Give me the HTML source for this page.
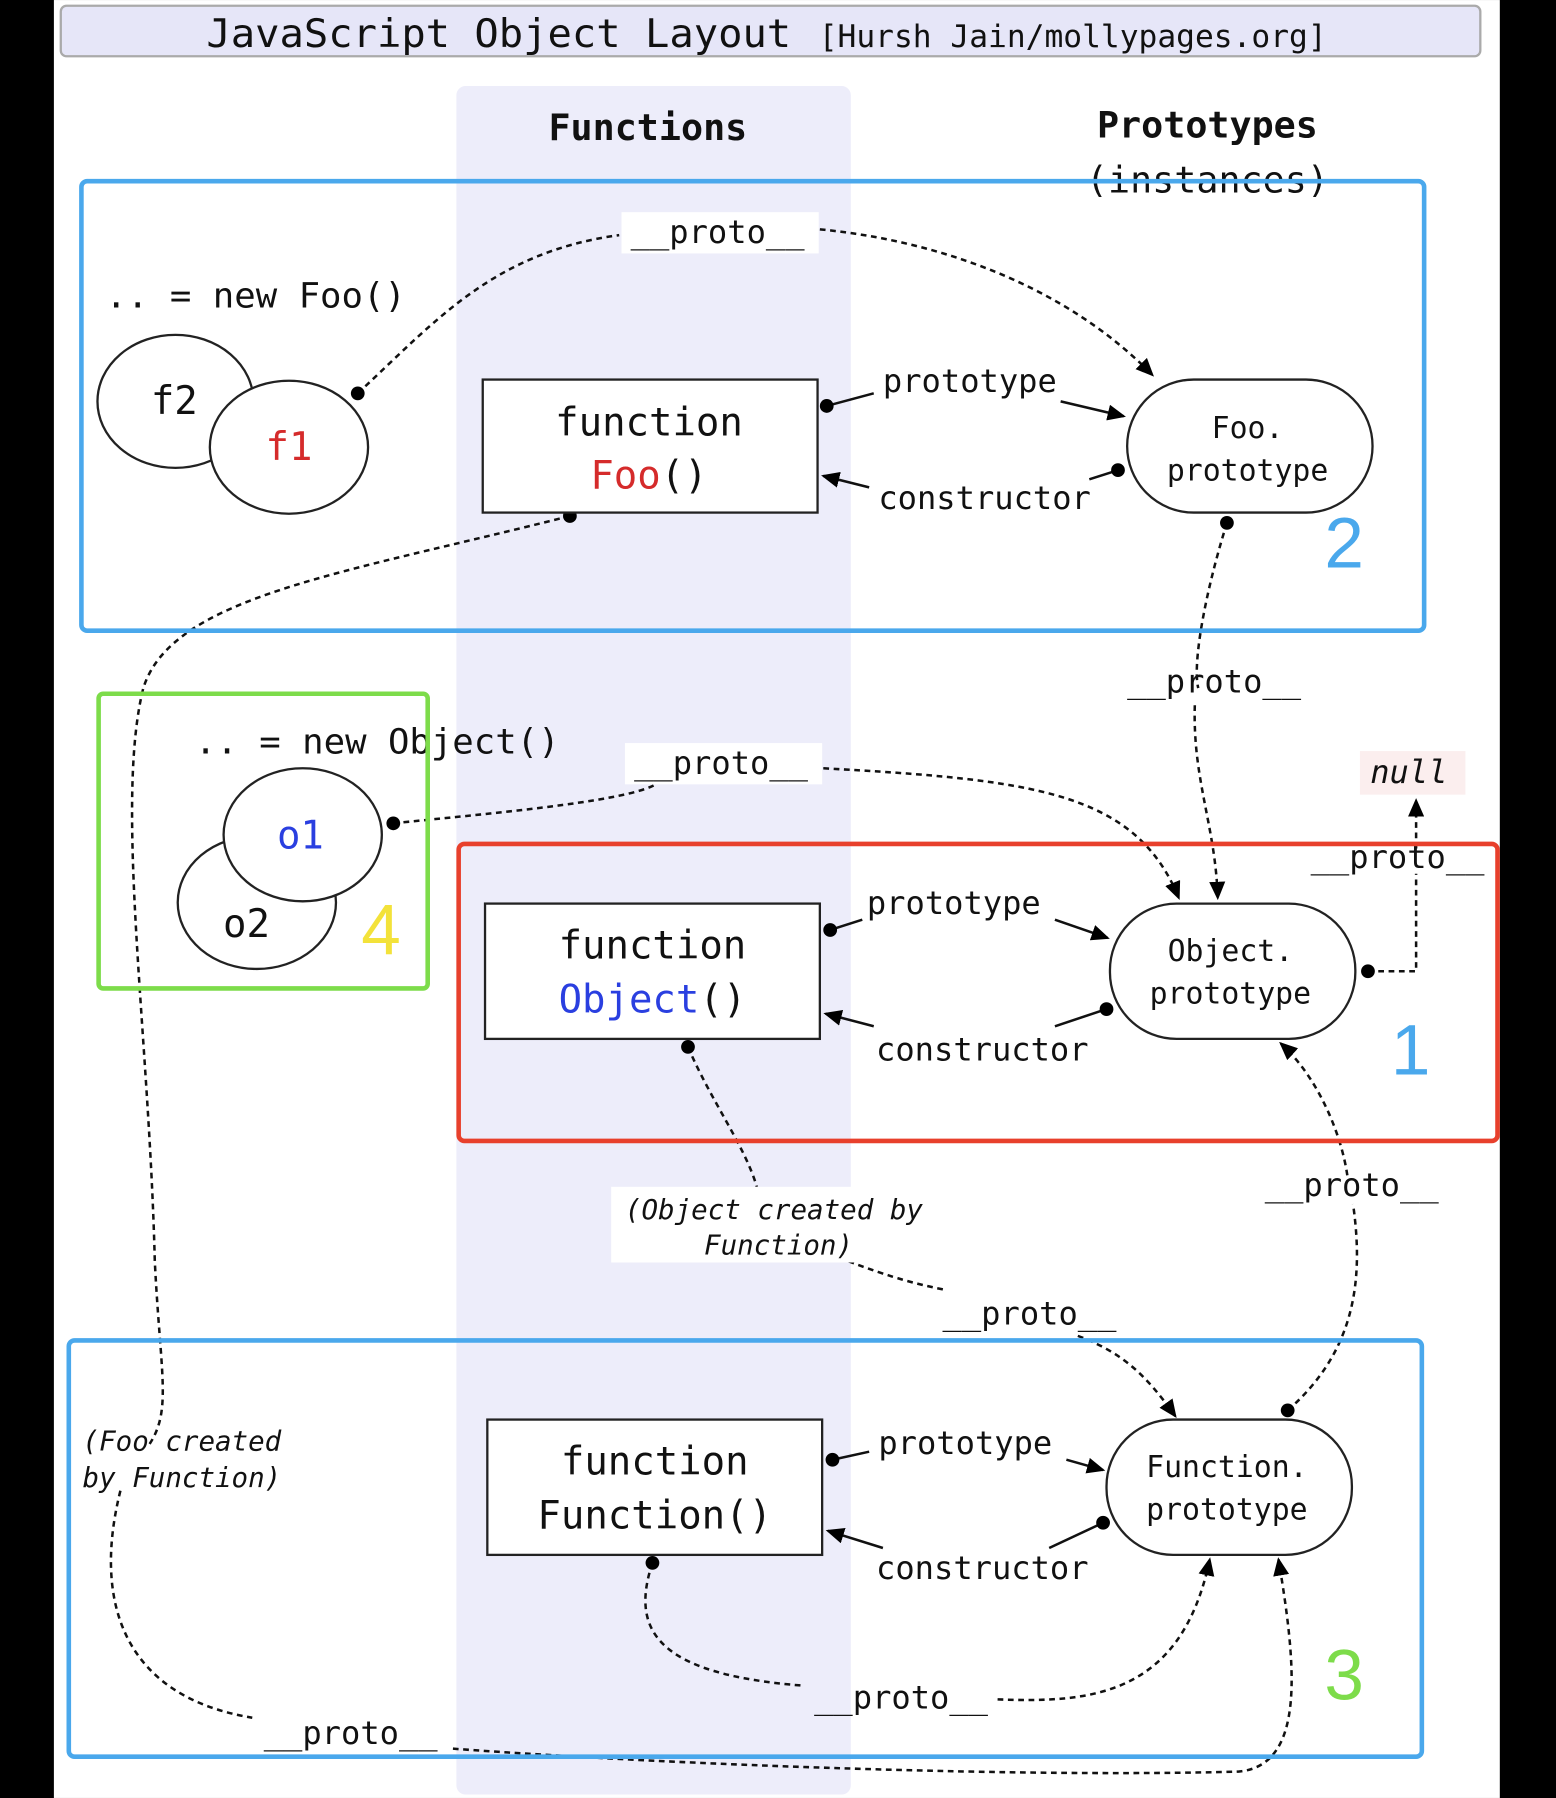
<!DOCTYPE html>
<html><head><meta charset="utf-8"><style>
html,body{margin:0;padding:0;background:#000;}
svg{display:block;}
text{font-family:"DejaVu Sans Mono","Liberation Mono",monospace;fill:#111;}
</style></head><body>
<svg width="1556" height="1798" viewBox="0 0 1357 1568" xmlns="http://www.w3.org/2000/svg">
<defs>
<marker id="ar" markerWidth="16" markerHeight="14" refX="14" refY="7" orient="auto" markerUnits="userSpaceOnUse" viewBox="0 0 16 14">
<path d="M0,0 L16,7 L0,14 z" fill="#000"/></marker>
</defs>
<rect x="0" y="0" width="1357" height="1568" fill="#000"/>
<rect x="47" y="0" width="1261" height="1568" fill="#fff"/>
<rect x="53" y="5" width="1238" height="44" rx="5" fill="#e6e6f8" stroke="#aaa" stroke-width="2"/>
<text x="180" y="41" font-size="34" textLength="510" lengthAdjust="spacingAndGlyphs">JavaScript Object Layout</text>
<text x="714" y="41" font-size="27" textLength="443" lengthAdjust="spacingAndGlyphs">[Hursh Jain/mollypages.org]</text>
<rect x="398" y="75" width="344" height="1490" rx="8" fill="#ededfa"/>
<text x="565" y="122" font-size="32" font-weight="bold" text-anchor="middle">Functions</text>
<text x="1053" y="120" font-size="32" font-weight="bold" text-anchor="middle">Prototypes</text>
<text x="1053" y="168" font-size="32" text-anchor="middle">(instances)</text>

<g fill="none" stroke="#111" stroke-width="2.2" stroke-dasharray="5,4">
<path d="M312,343 C380,280 430,220 540,205"/>
<path d="M715,200 C820,210 930,250 1005,327" marker-end="url(#ar)"/>
<path d="M1070,456 C1050,520 1040,580 1045,600"/>
<path d="M1042,615 C1040,680 1060,720 1062,783" marker-end="url(#ar)"/>
<path d="M343,718 C420,710 540,700 570,685"/>
<path d="M718,670 C900,680 990,690 1028,783" marker-end="url(#ar)"/>
<path d="M1193,847 L1235,847 L1235,762"/>
<path d="M1235,740 L1235,698" marker-end="url(#ar)"/>
<path d="M600,913 C620,960 650,1000 660,1035"/>
<path d="M740,1100 C780,1115 800,1120 825,1125"/>
<path d="M940,1165 C980,1180 1000,1200 1025,1235" marker-end="url(#ar)"/>
<path d="M1123,1230 C1180,1180 1190,1120 1180,1050"/>
<path d="M1175,1025 C1170,990 1150,940 1117,910" marker-end="url(#ar)"/>
<path d="M497,450 C300,500 150,520 125,600 C100,700 130,900 135,1100 C140,1200 150,1230 130,1260"/>
<path d="M105,1300 C80,1400 110,1480 220,1498"/>
<path d="M395,1525 C600,1540 900,1550 1080,1545 C1140,1540 1130,1450 1115,1360" marker-end="url(#ar)"/>
<path d="M569,1363 C550,1420 570,1460 700,1470"/>
<path d="M870,1482 C950,1485 1030,1480 1055,1360" marker-end="url(#ar)"/>
</g>
<g stroke="#111" stroke-width="2.2" fill="none">
<path d="M721,354 L762,343"/><path d="M925,350 L980,363" marker-end="url(#ar)"/>
<path d="M975,410 L950,418"/><path d="M758,425 L718,415" marker-end="url(#ar)"/>
<path d="M724,811 L752,802"/><path d="M920,802 L966,818" marker-end="url(#ar)"/>
<path d="M965,880 L920,895"/><path d="M762,895 L720,884" marker-end="url(#ar)"/>
<path d="M726,1273 L758,1266"/><path d="M930,1273 L962,1282" marker-end="url(#ar)"/>
<path d="M962,1328 L915,1350"/><path d="M770,1350 L722,1335" marker-end="url(#ar)"/>
</g>
<g fill="#000">
<circle cx="312" cy="343" r="6"/><circle cx="721" cy="354" r="6"/><circle cx="975" cy="410" r="6"/>
<circle cx="497" cy="450" r="6"/><circle cx="1070" cy="456" r="6"/><circle cx="343" cy="718" r="6"/>
<circle cx="724" cy="811" r="6"/><circle cx="965" cy="880" r="6"/><circle cx="1193" cy="847" r="6"/>
<circle cx="600" cy="913" r="6"/><circle cx="1123" cy="1230" r="6"/><circle cx="726" cy="1273" r="6"/>
<circle cx="962" cy="1328" r="6"/><circle cx="569" cy="1363" r="6"/>
</g>

<g font-size="28">
<rect x="542" y="185" width="172" height="36" fill="#fff"/><text x="550" y="212">__proto__</text>
<text x="770" y="342">prototype</text><text x="766" y="444">constructor</text>
<text x="983" y="604">__proto__</text>
<rect x="545" y="648" width="172" height="36" fill="#fff"/><text x="553" y="675">__proto__</text>
<text x="756" y="797">prototype</text><text x="764" y="925">constructor</text>
<text x="1143" y="757">__proto__</text>
<text x="1103" y="1043">__proto__</text>
<text x="822" y="1155">__proto__</text>
<text x="766" y="1268">prototype</text><text x="764" y="1377">constructor</text>
<text x="710" y="1490">__proto__</text>
<text x="230" y="1521">__proto__</text>
</g>
<g font-size="30">
<text x="92" y="268" textLength="262" lengthAdjust="spacingAndGlyphs">.. = new Foo()</text>
<text x="170" y="657" textLength="318" lengthAdjust="spacingAndGlyphs">.. = new Object()</text>
</g>
<rect x="1186" y="655" width="92" height="38" fill="#fbeeee"/>
<text x="1195" y="683" font-size="28" font-style="italic">null</text>
<rect x="533" y="1035" width="290" height="66" fill="#fff"/>
<text x="545" y="1063" font-size="24" font-style="italic">(Object created by</text>
<text x="614" y="1094" font-size="24" font-style="italic">Function)</text>
<text x="72" y="1265" font-size="24" font-style="italic">(Foo created</text>
<text x="72" y="1297" font-size="24" font-style="italic">by Function)</text>

<g stroke="#222" stroke-width="2" fill="#fff">
<ellipse cx="153" cy="350" rx="68" ry="58"/>
<ellipse cx="252" cy="390" rx="69" ry="58"/>
<ellipse cx="224" cy="787" rx="69" ry="58"/>
<ellipse cx="264" cy="728" rx="69" ry="58"/>
<rect x="421" y="331" width="292" height="116"/>
<rect x="423" y="788" width="292" height="118"/>
<rect x="425" y="1238" width="292" height="118"/>
<rect x="983" y="331" width="214" height="116" rx="58"/>
<rect x="968" y="788" width="214" height="118" rx="58"/>
<rect x="965" y="1238" width="214" height="118" rx="58"/>
</g>
<g font-size="34" text-anchor="middle">
<text x="152" y="361">f2</text>
<text x="252" y="401" style="fill:#d52b2b">f1</text>
<text x="215" y="817">o2</text>
<text x="262" y="740" style="fill:#2a3fe0">o1</text>
<text x="566" y="380">function</text>
<text x="566" y="426"><tspan style="fill:#d52b2b">Foo</tspan>()</text>
<text x="569" y="836">function</text>
<text x="569" y="883"><tspan style="fill:#2a3fe0">Object</tspan>()</text>
<text x="571" y="1286">function</text>
<text x="571" y="1333">Function()</text>
</g>
<g font-size="26" text-anchor="middle">
<text x="1088" y="382">Foo.</text><text x="1088" y="419">prototype</text>
<text x="1073" y="838">Object.</text><text x="1073" y="875">prototype</text>
<text x="1070" y="1288">Function.</text><text x="1070" y="1325">prototype</text>
</g>

<g fill="none" stroke-width="4">
<rect x="71" y="158" width="1171" height="392" rx="5" stroke="#4aa8ec"/>
<rect x="86" y="605" width="287" height="257" rx="4" stroke="#7ddc4a"/>
<rect x="400" y="736" width="906" height="259" rx="5" stroke="#e8402c"/>
<rect x="60" y="1169" width="1180" height="363" rx="5" stroke="#4aa8ec"/>
</g>
<g font-size="62">
<text x="1155" y="495" style="fill:#4aa8ec;font-family:'Liberation Sans',sans-serif">2</text>
<text x="315" y="832" style="fill:#f3e23a;font-family:'Liberation Sans',sans-serif">4</text>
<text x="1213" y="937" style="fill:#4aa8ec;font-family:'Liberation Sans',sans-serif">1</text>
<text x="1155" y="1482" style="fill:#7ddc4a;font-family:'Liberation Sans',sans-serif">3</text>
</g>
</svg>
</body></html>
